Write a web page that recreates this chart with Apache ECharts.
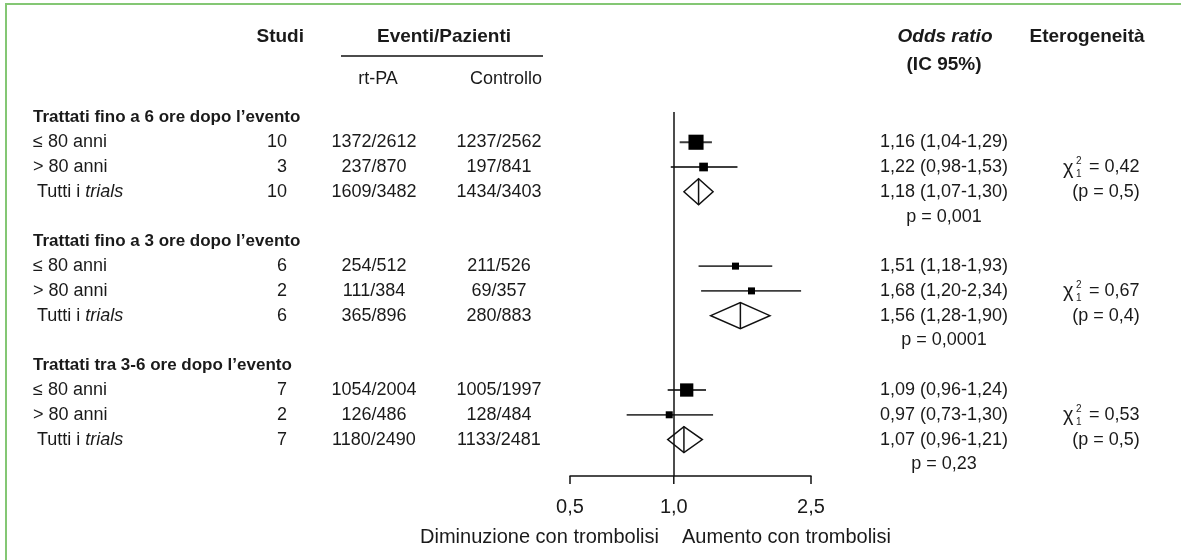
<!DOCTYPE html>
<html><head><meta charset="utf-8">
<script src="https://cdn.jsdelivr.net/npm/echarts@6/dist/echarts.min.js"></script>
<style>html,body{margin:0;padding:0;background:#fff}#c{width:1181px;height:560px}</style>
</head><body><div id="c"></div>
<script>
// ---- data ----
const gruppi = ['Trattati fino a 6 ore dopo l’evento', 'Trattati fino a 3 ore dopo l’evento', 'Trattati tra 3-6 ore dopo l’evento'];
const sottogruppi = ['≤ 80 anni', '> 80 anni', 'Tutti i trials'];
const studi = [[10, 3, 10], [6, 2, 6], [7, 2, 7]];
const eventiRtpa = [[1372, 237, 1609], [254, 111, 365], [1054, 126, 1180]];
const pazientiRtpa = [[2612, 870, 3482], [512, 384, 896], [2004, 486, 2490]];
const eventiControllo = [[1237, 197, 1434], [211, 69, 280], [1005, 128, 1133]];
const pazientiControllo = [[2562, 841, 3403], [526, 357, 883], [1997, 484, 2481]];
const orStima = [[1.16, 1.22, 1.18], [1.51, 1.68, 1.56], [1.09, 0.97, 1.07]];
const orInferiore = [[1.04, 0.98, 1.07], [1.18, 1.20, 1.28], [0.96, 0.73, 0.96]];
const orSuperiore = [[1.29, 1.53, 1.30], [1.93, 2.34, 1.90], [1.24, 1.30, 1.21]];
const pEffetto = ['0,001', '0,0001', '0,23'];
const chiQuadro = ['0,42', '0,67', '0,53'];
const pEterogeneita = ['0,5', '0,4', '0,5'];
const xTicks = [0.5, 1.0, 2.5];

// ---- layout / style ----
const FONT = '"Liberation Sans", Arial, sans-serif';
const NERO = '#1a1a1a';
const Y_MIN = -1.22, Y_MAX = 13.47;
const riga = (g, r) => g * 5 + r;
const fmt2 = v => v.toFixed(2).replace('.', ',');
const F18 = `18px ${FONT}`;

// text table built from the arrays
const testi = [];
gruppi.forEach((titolo, g) => {
  testi.push({ riga: riga(g, -1), x: 33, align: 'left', text: titolo, font: `bold 17px ${FONT}` });
  sottogruppi.forEach((etichetta, r) => {
    const rr = riga(g, r);
    if (etichetta.indexOf('trials') >= 0) {
      const a = etichetta.split('trials')[0];
      testi.push({ riga: rr, x: 37, align: 'left', font: F18, text: `{n|${a}}{it|trials}`,
        rich: { n: { font: F18, fill: NERO }, it: { font: `italic 18px ${FONT}`, fill: NERO } } });
    } else {
      testi.push({ riga: rr, x: 33, align: 'left', font: F18, text: etichetta });
    }
    testi.push({ riga: rr, x: 287, align: 'right', font: F18, text: String(studi[g][r]) });
    testi.push({ riga: rr, x: 374, align: 'center', font: F18, text: eventiRtpa[g][r] + '/' + pazientiRtpa[g][r] });
    testi.push({ riga: rr, x: 499, align: 'center', font: F18, text: eventiControllo[g][r] + '/' + pazientiControllo[g][r] });
    testi.push({ riga: rr, x: 944, align: 'center', font: F18,
      text: `${fmt2(orStima[g][r])} (${fmt2(orInferiore[g][r])}-${fmt2(orSuperiore[g][r])})` });
  });
  testi.push({ riga: riga(g, 3), x: 944, align: 'center', font: F18, text: 'p = ' + pEffetto[g] });
  testi.push({ riga: riga(g, 1), x: 1063, chi: chiQuadro[g] });
  testi.push({ riga: riga(g, 2), x: 1106, align: 'center', font: F18, text: '(p = ' + pEterogeneita[g] + ')' });
});

function txt(x, y, text, font, align, rich) {
  return { type: 'text', x, y, style: { text, font, fill: NERO, align, verticalAlign: 'middle', rich } };
}

const ciData = [], quadrati = [], diamanti = [];
gruppi.forEach((_, g) => {
  [0, 1].forEach(r => {
    ciData.push([orInferiore[g][r], riga(g, r), orSuperiore[g][r]]);
    quadrati.push([orStima[g][r], riga(g, r), pazientiRtpa[g][r] + pazientiControllo[g][r]]);
  });
  diamanti.push([orInferiore[g][2], riga(g, 2), orSuperiore[g][2], orStima[g][2]]);
});

const chart = echarts.init(document.getElementById('c'), null, { renderer: 'canvas' });
chart.setOption({
  animation: false,
  backgroundColor: '#fff',
  grid: { left: 570, right: 370, top: 112, bottom: 84 },
  xAxis: {
    type: 'log', logBase: 10, min: 0.5, max: 2.5,
    axisLine: { show: true, onZero: false, lineStyle: { color: '#111', width: 1.5 } },
    axisTick: { show: false }, axisLabel: { show: false }, splitLine: { show: false }
  },
  yAxis: { type: 'value', inverse: true, min: Y_MIN, max: Y_MAX, show: false },
  graphic: [
    { type: 'line', shape: { x1: 5, y1: 4, x2: 1181, y2: 4 }, style: { stroke: '#84c774', lineWidth: 2 } },
    { type: 'line', shape: { x1: 6, y1: 4, x2: 6, y2: 560 }, style: { stroke: '#84c774', lineWidth: 2 } },
    txt(304, 37, 'Studi', `bold 19px ${FONT}`, 'right'),
    txt(444, 37, 'Eventi/Pazienti', `bold 19px ${FONT}`, 'center'),
    { type: 'line', shape: { x1: 341, y1: 56, x2: 543, y2: 56 }, style: { stroke: '#111', lineWidth: 1.5 } },
    txt(378, 79, 'rt-PA', F18, 'center'),
    txt(542, 79, 'Controllo', F18, 'right'),
    txt(945, 37, 'Odds ratio', `italic bold 19px ${FONT}`, 'center'),
    txt(944, 65, '(IC 95%)', `bold 19px ${FONT}`, 'center'),
    txt(1087, 37, 'Eterogeneità', `bold 19px ${FONT}`, 'center'),
    txt(659, 537, 'Diminuzione con trombolisi', `20px ${FONT}`, 'right'),
    txt(682, 537, 'Aumento con trombolisi', `20px ${FONT}`, 'left')
  ],
  series: [
    {
      name: 'IC', type: 'custom', clip: false, silent: true, z: 2,
      encode: { x: [0, 2], y: 1 },
      data: ciData,
      renderItem: (params, api) => {
        const y = api.value(1);
        const p1 = api.coord([api.value(0), y]);
        const p2 = api.coord([api.value(2), y]);
        return { type: 'line', shape: { x1: p1[0], y1: p1[1], x2: p2[0], y2: p2[1] },
          style: { stroke: '#3d3d3d', lineWidth: 1.8 } };
      }
    },
    {
      name: 'OR', type: 'scatter', silent: true, z: 3,
      symbol: 'rect',
      symbolSize: v => Math.max(7, Math.sqrt(v[2]) * 0.21),
      itemStyle: { color: '#000', opacity: 1 },
      data: quadrati,
      markLine: {
        silent: true, symbol: ['none', 'none'], label: { show: false },
        lineStyle: { color: '#111', width: 1.5, type: 'solid' },
        data: [{ xAxis: 1 }]
      }
    },
    {
      name: 'Totale', type: 'custom', clip: false, silent: true, z: 3,
      encode: { x: [0, 2, 3], y: 1 },
      data: diamanti,
      renderItem: (params, api) => {
        const y = api.value(1);
        const pl = api.coord([api.value(0), y]);
        const ph = api.coord([api.value(2), y]);
        const pe = api.coord([api.value(3), y]);
        const h = 13;
        return { type: 'group', children: [
          { type: 'polygon', shape: { points: [[pl[0], pl[1]], [pe[0], pe[1] - h], [ph[0], ph[1]], [pe[0], pe[1] + h]] },
            style: { fill: '#fff', stroke: '#111', lineWidth: 1.5 } },
          { type: 'line', shape: { x1: pe[0], y1: pe[1] - h, x2: pe[0], y2: pe[1] + h },
            style: { stroke: '#111', lineWidth: 1.5 } }
        ] };
      }
    },
    {
      name: 'Asse', type: 'custom', clip: false, silent: true, z: 2,
      data: xTicks.map(v => [v, Y_MAX]),
      renderItem: (params, api) => {
        const v = api.value(0);
        const p = api.coord([v, api.value(1)]);
        return { type: 'group', children: [
          { type: 'line', shape: { x1: p[0], y1: p[1], x2: p[0], y2: p[1] + 8 }, style: { stroke: '#111', lineWidth: 1.5 } },
          txt(p[0], p[1] + 31, v.toFixed(1).replace('.', ','), `20px ${FONT}`, 'center')
        ] };
      }
    },
    {
      name: 'Testo', type: 'custom', clip: false, silent: true, z: 4,
      data: testi.map(t => [1, t.riga]),
      renderItem: (params, api) => {
        const t = testi[params.dataIndex];
        const y = api.coord([1, api.value(1)])[1];
        if (t.chi) {
          return { type: 'group', children: [
            txt(t.x, y + 1, 'χ', `20px ${FONT}`, 'left'),
            txt(t.x + 13, y - 6, '2', `10px ${FONT}`, 'left'),
            txt(t.x + 13, y + 7, '1', `10px ${FONT}`, 'left'),
            txt(t.x + 26, y, '= ' + t.chi, F18, 'left')
          ] };
        }
        return txt(t.x, y, t.text, t.font, t.align, t.rich);
      }
    }
  ]
});
</script></body></html>
